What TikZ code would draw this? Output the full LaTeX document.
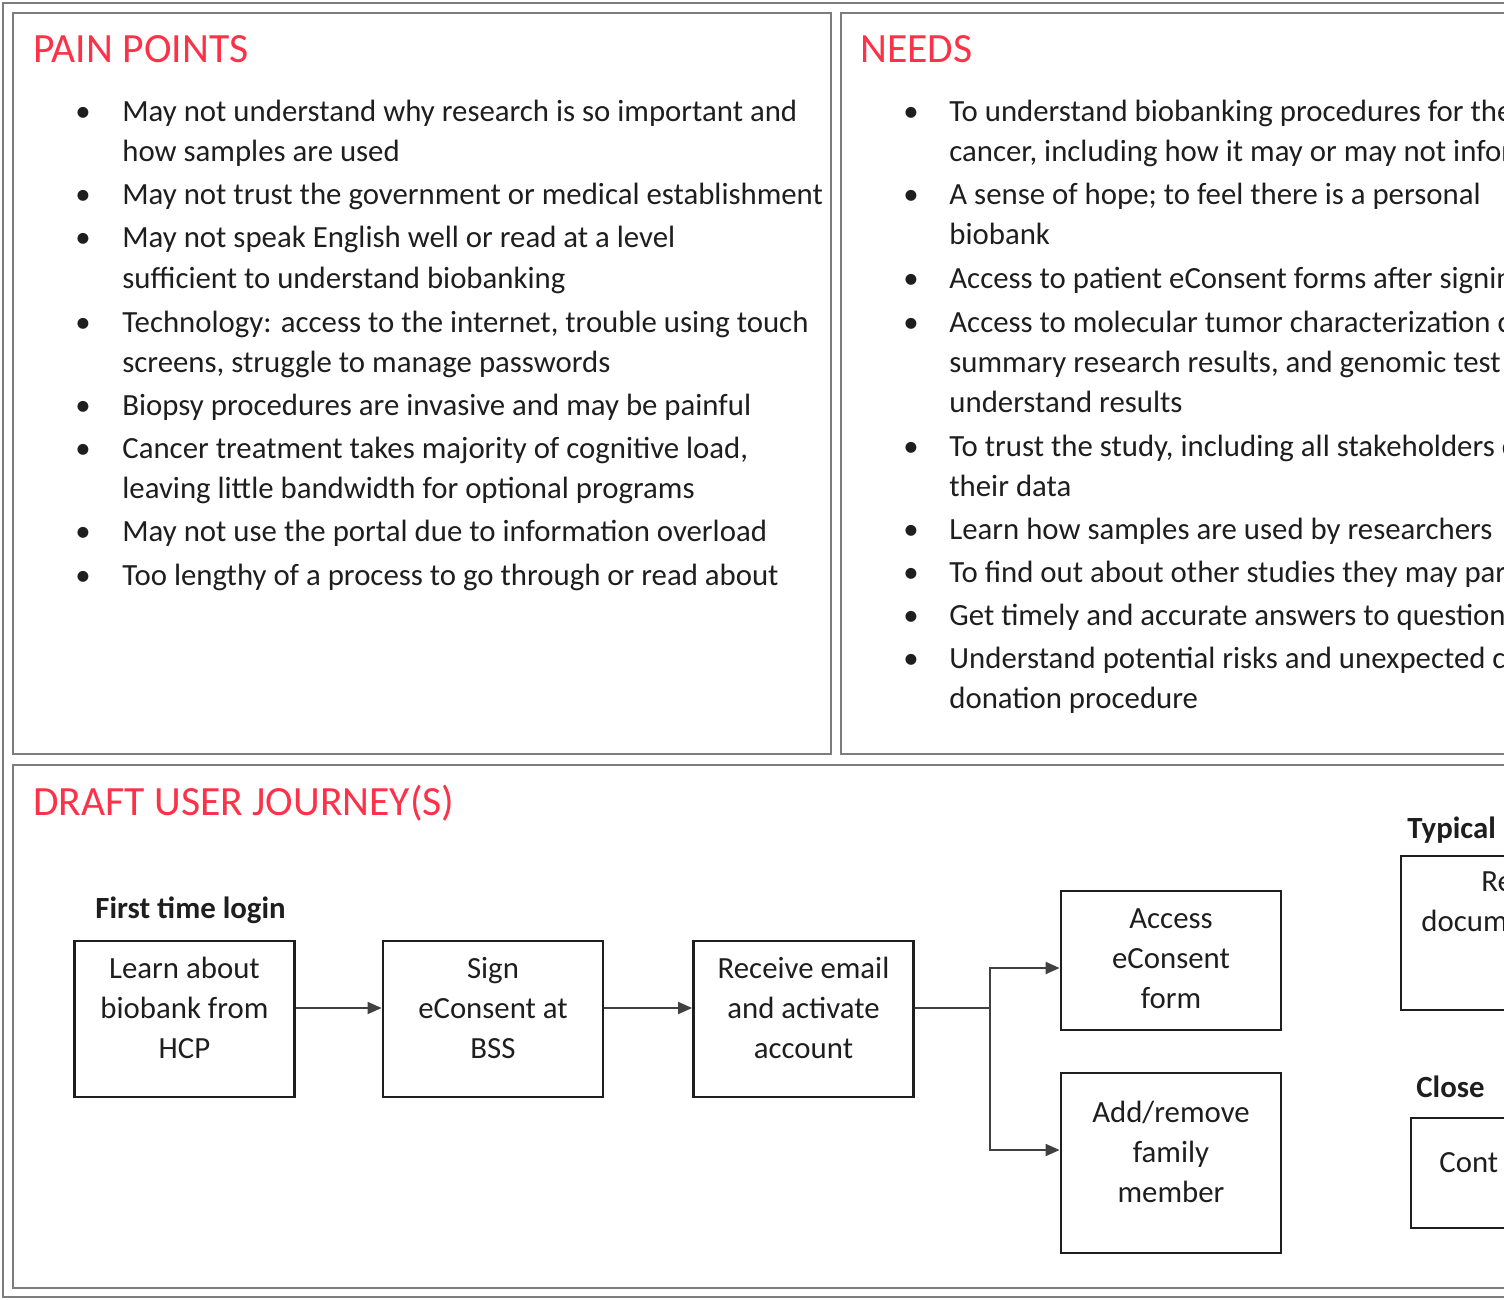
\documentclass[tikz,border=0pt]{standalone}
\usepackage{fontspec}
\setmainfont{Carlito}
\usetikzlibrary{arrows.meta}
\definecolor{headred}{RGB}{252,50,72}
\definecolor{framegray}{RGB}{125,125,125}
\definecolor{inkblack}{RGB}{30,30,30}

\begin{document}
\begin{tikzpicture}[x=0.5pt, y=-0.5pt, font=\fontsize{15.4}{20}\selectfont, text=inkblack]
  \tikzset{
    panel_frame/.style={draw=framegray, line width=1.3pt},
    red_heading/.style={anchor=base west, inner sep=0pt, text=headred, font=\fontsize{20.8}{24}\selectfont},
    bullet_text/.style={anchor=base west, inner sep=0pt},
    bullet_dot/.style={anchor=base, inner sep=0pt},
    journey_title/.style={anchor=base west, inner sep=0pt, font=\fontsize{15.4}{20}\selectfont\bfseries},
    journey_box/.style={draw=inkblack, line width=1.4pt, minimum width=110pt, minimum height=#1, inner sep=0pt},
    journey_box/.default=78pt,
    box_text/.style={align=center, inner sep=0pt},
    flow_line/.style={line width=0.9pt, draw=inkblack!85},
    flow_arrow/.style={-{Triangle[length=7pt,width=6pt]}, flow_line}
  }
  \useasboundingbox (0,0) rectangle (1504,1300);
  \clip (0,0) rectangle (1504,1300);

  % Draw the outer frame and the three panels
  \draw[panel_frame] (3,3) rectangle (1560,1297);
  \draw[panel_frame] (13,13) rectangle (831,754);
  \draw[panel_frame] (841,13) rectangle (1560,754);
  \draw[panel_frame] (13,765) rectangle (1560,1288);

  % Headings of the panels
  \node[red_heading] (pain-head) at (33,63) {PAIN POINTS};
  \node[red_heading] (needs-head) at (860,63) {NEEDS};
  \node[red_heading] (journey-head) at (33,815) {DRAFT USER JOURNEY(S)};

  % Pain points, one node per printed line
  \foreach \ypos/\txt [count=\i] in {
      122/{May not understand why research is so important and},
      162/{how samples are used},
      205/{May not trust the government or medical establishment},
      248/{May not speak English well or read at a level},
      288/{sufficient to understand biobanking},
      332/{Technology: access to the internet, trouble using touch},
      372/{screens, struggle to manage passwords},
      415/{Biopsy procedures are invasive and may be painful},
      458/{Cancer treatment takes majority of cognitive load,},
      498/{leaving little bandwidth for optional programs},
      541/{May not use the portal due to information overload},
      585/{Too lengthy of a process to go through or read about}} {
    \node[bullet_text] (pain-\i) at (122,\ypos) {\txt};
  }
  \foreach \ypos [count=\i] in {122,205,248,332,415,458,541,585} {
    \node[bullet_dot] (pain-dot-\i) at (83,\ypos) {\textbullet};
  }

  % Needs, one node per printed line (cut off by the right edge)
  \foreach \ypos/\txt [count=\i] in {
      122/{To understand biobanking procedures for the},
      162/{cancer, including how it may or may not inform},
      205/{A sense of hope; to feel there is a personal},
      245/{biobank},
      289/{Access to patient eConsent forms after signing},
      332/{Access to molecular tumor characterization c},
      372/{summary research results, and genomic test},
      412/{understand results},
      456/{To trust the study, including all stakeholders c},
      496/{their data},
      539/{Learn how samples are used by researchers},
      582/{To find out about other studies they may part},
      625/{Get timely and accurate answers to questions},
      668/{Understand potential risks and unexpected c},
      708/{donation procedure}} {
    \node[bullet_text] (needs-\i) at (949,\ypos) {\txt};
  }
  \foreach \ypos [count=\i] in {122,205,289,332,456,539,582,625,668} {
    \node[bullet_dot] (needs-dot-\i) at (911,\ypos) {\textbullet};
  }

  % Journey titles
  \node[journey_title] (first-login) at (95,918) {First time login};
  \node[journey_title] (typical) at (1407,838) {Typical};
  \node[journey_title] (close) at (1416,1097) {Close};

  % Journey boxes and their texts
  \node[journey_box] (learn) at (184.5,1019) {};
  \node[journey_box] (sign) at (493,1019) {};
  \node[journey_box] (receive) at (803.5,1019) {};
  \node[journey_box=69.5pt] (access) at (1171,960.5) {};
  \node[journey_box=90pt] (family) at (1171,1163) {};
  \node[journey_box=77pt] (review) at (1511,933) {};
  \node[journey_box=55pt] (contact) at (1521,1173) {};

  \node[box_text] (learn-t) at (184.5,1008) {Learn about\\biobank from\\HCP};
  \node[box_text] (sign-t) at (493,1008) {Sign\\eConsent at\\BSS};
  \node[box_text] (receive-t) at (803.5,1008) {Receive email\\and activate\\account};
  \node[box_text] (access-t) at (1171,959) {Access\\eConsent\\form};
  \node[box_text] (family-t) at (1171,1152) {Add/remove\\family\\member};
  \node[bullet_text] (review-t1) at (1481,891) {Re};
  \node[bullet_text] (review-t2) at (1421,931) {docum};
  \node[bullet_text] (contact-t) at (1439,1172) {Cont};

  % Draw the connectors between the boxes
  \draw[flow_arrow] (learn.east |- learn-t) -- (sign.west |- learn-t);
  \draw[flow_arrow] (sign.east |- sign-t) -- (receive.west |- sign-t);
  \coordinate (split) at (990,1008);
  \draw[flow_line] (receive.east |- receive-t) -- (split);
  \draw[flow_arrow] (split) |- ([yshift=-3.75pt]access.west);
  \draw[flow_arrow] (split) |- ([yshift=6.5pt]family.west);

\end{tikzpicture}
\end{document}
